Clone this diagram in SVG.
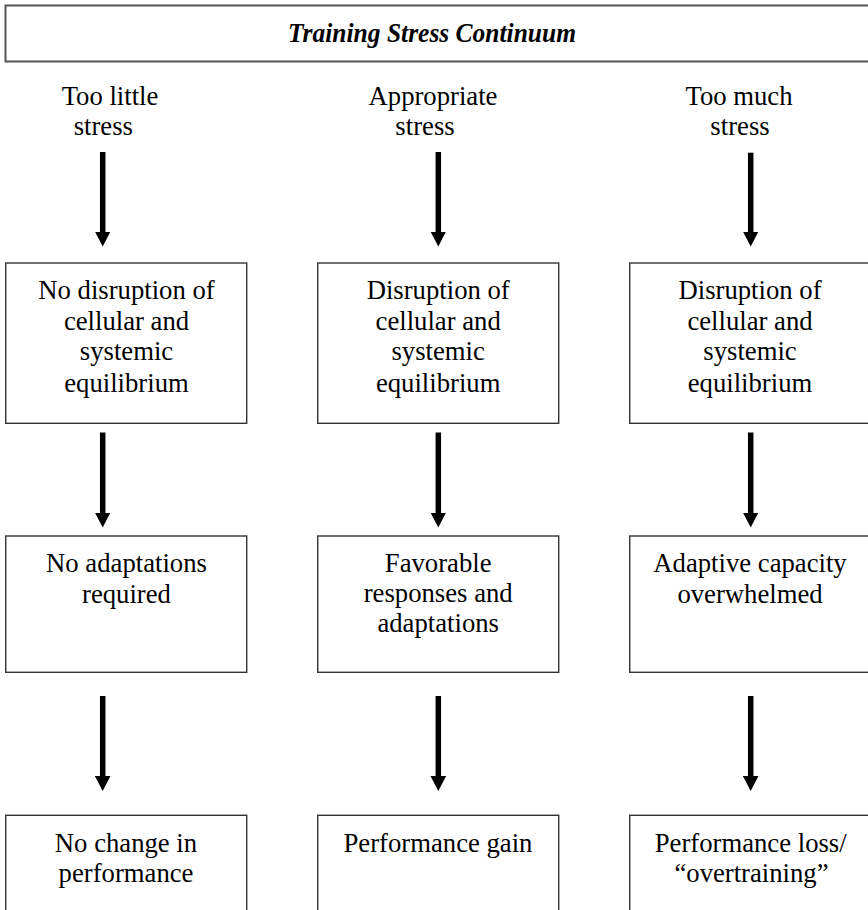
<svg xmlns="http://www.w3.org/2000/svg" width="868" height="910" viewBox="0 0 868 910">
<style>
  .bg{fill:#fff}
  .box{fill:#fff;stroke:#333;stroke-width:1.4}
  .title-box{fill:#fff;stroke:#555;stroke-width:2}
  .t{font-family:"Liberation Serif","Times New Roman",serif;font-size:26.7px;fill:#000;text-anchor:middle}
  .title{font-family:"Liberation Serif","Times New Roman",serif;font-size:27px;font-weight:bold;font-style:italic;fill:#000;text-anchor:middle}
  .arrow{stroke:#000;stroke-width:5.5;fill:none;marker-end:url(#ah)}
</style>
<defs>
  <marker id="ah" markerUnits="userSpaceOnUse" markerWidth="16" markerHeight="16" viewBox="0 0 16 16" refX="1" refY="8" orient="auto">
    <path d="M0,0.2 L15,8 L0,15.8 z" fill="#000"/>
  </marker>
</defs>
<rect class="bg" x="0" y="0" width="868" height="910"/>

<g id="title">
  <rect class="title-box" x="5.5" y="5.5" width="870" height="56"/>
  <text class="title" x="432" y="41.7" textLength="288" lengthAdjust="spacingAndGlyphs">Training Stress Continuum</text>
</g>

<g id="label-too-little">
  <text class="t" x="110" y="105">Too little</text>
  <text class="t" x="103.3" y="135">stress</text>
</g>
<g id="label-appropriate">
  <text class="t" x="433" y="105">Appropriate</text>
  <text class="t" x="425" y="135">stress</text>
</g>
<g id="label-too-much">
  <text class="t" x="739" y="105">Too much</text>
  <text class="t" x="740" y="135">stress</text>
</g>

<g id="box-1-1">
  <rect class="box" x="5.7" y="263" width="241" height="160.3"/>
  <text class="t" x="126.5" y="299">No disruption of</text>
  <text class="t" x="126.5" y="330">cellular and</text>
  <text class="t" x="126.5" y="360">systemic</text>
  <text class="t" x="126.5" y="391.5">equilibrium</text>
</g>
<g id="box-1-2">
  <rect class="box" x="317.7" y="263" width="241" height="160.3"/>
  <text class="t" x="438.2" y="299">Disruption of</text>
  <text class="t" x="438.2" y="330">cellular and</text>
  <text class="t" x="438.2" y="360">systemic</text>
  <text class="t" x="438.2" y="391.5">equilibrium</text>
</g>
<g id="box-1-3">
  <rect class="box" x="629.7" y="263" width="241" height="160.3"/>
  <text class="t" x="750" y="299">Disruption of</text>
  <text class="t" x="750" y="330">cellular and</text>
  <text class="t" x="750" y="360">systemic</text>
  <text class="t" x="750" y="391.5">equilibrium</text>
</g>

<g id="box-2-1">
  <rect class="box" x="5.7" y="536" width="241" height="136.3"/>
  <text class="t" x="126.5" y="571.7">No adaptations</text>
  <text class="t" x="126.5" y="602.5">required</text>
</g>
<g id="box-2-2">
  <rect class="box" x="317.7" y="536" width="241" height="136.3"/>
  <text class="t" x="438.2" y="571.7">Favorable</text>
  <text class="t" x="438.2" y="602">responses and</text>
  <text class="t" x="438.2" y="632.3">adaptations</text>
</g>
<g id="box-2-3">
  <rect class="box" x="629.7" y="536" width="241" height="136.3"/>
  <text class="t" x="750" y="571.7">Adaptive capacity</text>
  <text class="t" x="750" y="602.5">overwhelmed</text>
</g>

<g id="box-3-1">
  <rect class="box" x="5.7" y="815.3" width="241" height="120"/>
  <text class="t" x="126" y="851.7">No change in</text>
  <text class="t" x="126" y="881.7">performance</text>
</g>
<g id="box-3-2">
  <rect class="box" x="317.7" y="815.3" width="241" height="120"/>
  <text class="t" x="438" y="851.7">Performance gain</text>
</g>
<g id="box-3-3">
  <rect class="box" x="629.7" y="815.3" width="241" height="120"/>
  <text class="t" x="750.7" y="851.7">Performance loss/</text>
  <text class="t" x="751.5" y="881.7">“overtraining”</text>
</g>

<g id="connectors">
  <line class="arrow" x1="102.7" y1="152" x2="102.7" y2="232.5"/>
  <line class="arrow" x1="438.3" y1="152" x2="438.3" y2="232.5"/>
  <line class="arrow" x1="750.7" y1="152.7" x2="750.7" y2="232.5"/>
  <line class="arrow" x1="102.7" y1="432.5" x2="102.7" y2="513.5"/>
  <line class="arrow" x1="438.3" y1="432.5" x2="438.3" y2="513.5"/>
  <line class="arrow" x1="750.7" y1="432.5" x2="750.7" y2="513.5"/>
  <line class="arrow" x1="102.7" y1="696" x2="102.7" y2="777"/>
  <line class="arrow" x1="438.3" y1="696" x2="438.3" y2="777"/>
  <line class="arrow" x1="750.7" y1="696" x2="750.7" y2="777"/>
</g>
</svg>
